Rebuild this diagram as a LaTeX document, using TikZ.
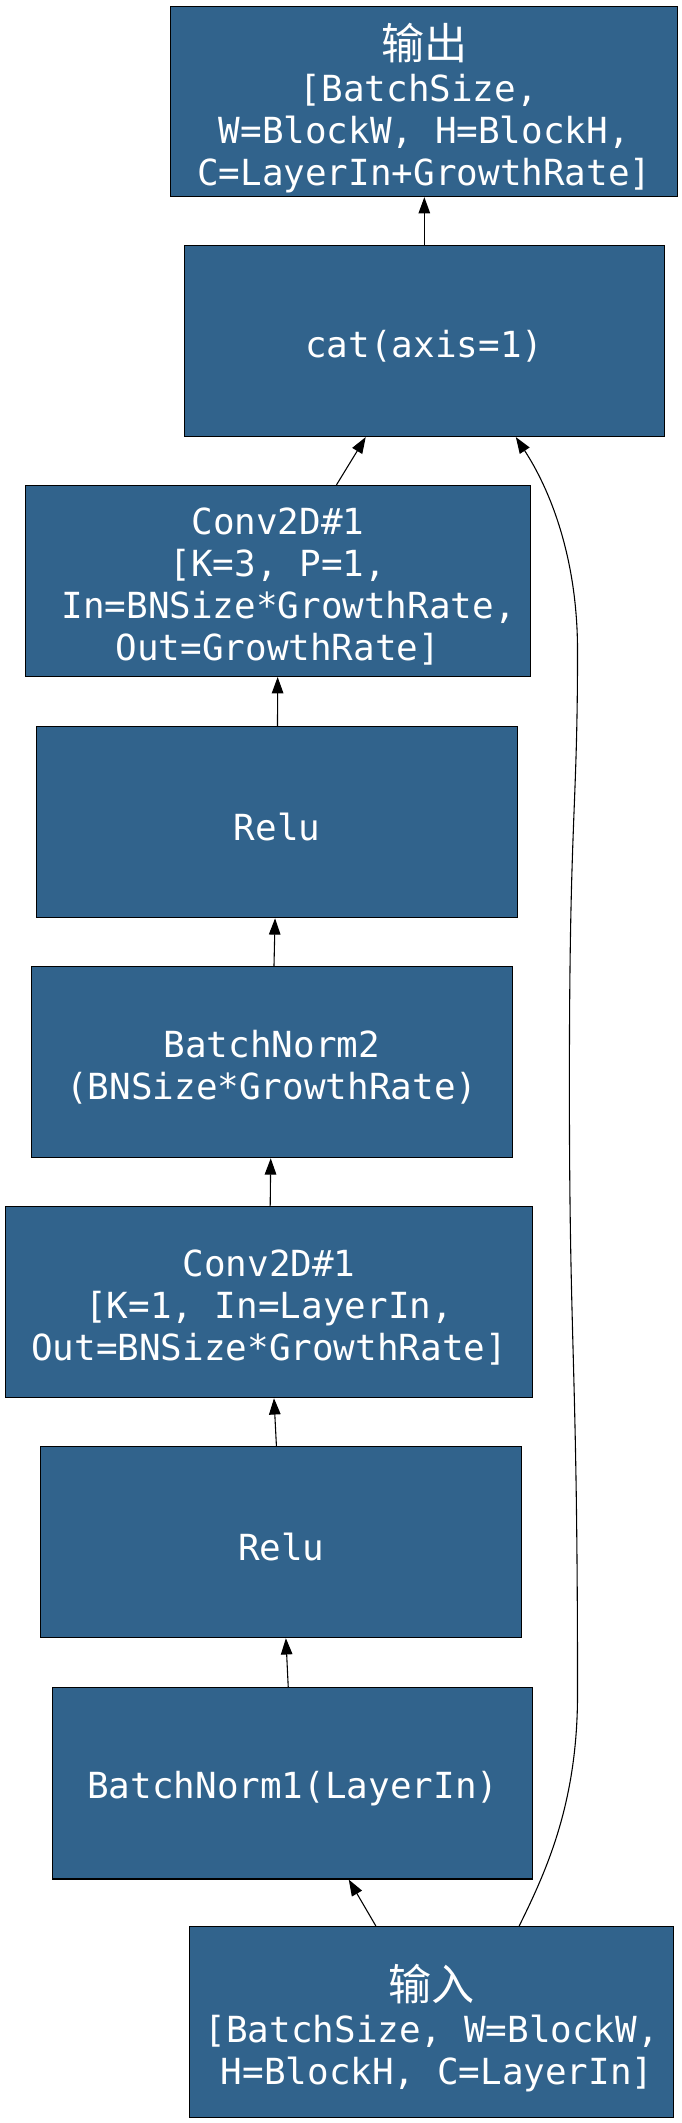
\documentclass[tikz,border=0pt]{standalone}
\usepackage{fontspec}
\usetikzlibrary{arrows.meta}
\newfontfamily\monofont{DejaVu Sans Mono}
\newfontfamily\cjk[Scale=1.2]{Noto Sans CJK SC}
\definecolor{blockblue}{RGB}{49,99,140}
% wide comma, two columns like the original label font
\newcommand{\zc}{,\hphantom{0}}
\newcommand{\pad}[1]{\hbox to -#1em{\hss}}
\newcommand{\topgap}[1]{\rule{0pt}{#1pt}}

\begin{document}
\begin{tikzpicture}[x=1pt, y=-1pt,
        block/.style={draw, rectangle, fill=blockblue, text=white, line width=0.8pt,
            inner sep=0pt, minimum height=141pt, align=center,
            font=\monofont\fontsize{26.5}{31}\selectfont},
        link/.style={draw, line width=0.8pt, -{Triangle[length=12pt,width=8.5pt]}}]
        \useasboundingbox (0,0) rectangle (503,1566);

        \node[block, minimum width=374pt, minimum height=140pt] (out) at (313,75)
            {\topgap{36}{\cjk 输出}\\{[}BatchSize\zc\pad{0.3}\\W=BlockW\zc H=BlockH\zc\pad{0.6}\\C=LayerIn+GrowthRate{]}};
        \node[block, minimum width=354pt] (cat) at (313,251.5) {\topgap{28}cat(axis=1)};
        \node[block, minimum width=372pt] (conv2) at (205,428.5)
            {\topgap{28}Conv2D\#1\\{[}K=3\zc P=1\zc\pad{0.6}\\In=BNSize*GrowthRate\zc\pad{1.2}\\Out=GrowthRate{]}};
        \node[block, minimum width=355pt] (relu2) at (204.5,606.5) {\topgap{28}Relu};
        \node[block, minimum width=355pt] (bn2) at (200.5,783.5) {\topgap{28}BatchNorm2\\(BNSize*GrowthRate)};
        \node[block, minimum width=389pt] (conv1) at (198.5,960.5)
            {\topgap{28}Conv2D\#1\\{[}K=1\zc In=LayerIn\zc\pad{0.6}\\Out=BNSize*GrowthRate{]}};
        \node[block, minimum width=355pt] (relu1) at (207.5,1137.5) {\topgap{28}Relu};
        \node[block, minimum width=354pt] (bn1) at (216,1315.5) {\topgap{28}BatchNorm1(LayerIn)};
        \node[block, minimum width=357pt] (in) at (318.5,1491.5)
            {\topgap{36}{\cjk 输入}\\{[}BatchSize\zc W=BlockW\zc\pad{0.6}\\H=BlockH\zc C=LayerIn{]}\pad{0.3}};

        \path[link] (cat) -- (out);
        \path[link] (conv2) -- (cat);
        \path[link] (relu2) -- (conv2);
        \path[link] (bn2) -- (relu2);
        \path[link] (conv1) -- (bn2);
        \path[link] (relu1) -- (conv1);
        \path[link] (bn1) -- (relu1);
        \path[link] (in) -- (bn1);
        % shortcut from the input straight to cat
        \path[link] ([xshift=64.5pt]in.north) .. controls (403,1380) and (426,1330) .. (426,1250)
            .. controls (426,1000) and (420,1000) .. (420,800)
            .. controls (420,600) and (426,600) .. (426,480)
            .. controls (426,410) and (405,360) .. ([xshift=67.5pt]cat.south);
    \end{tikzpicture}
\end{document}
